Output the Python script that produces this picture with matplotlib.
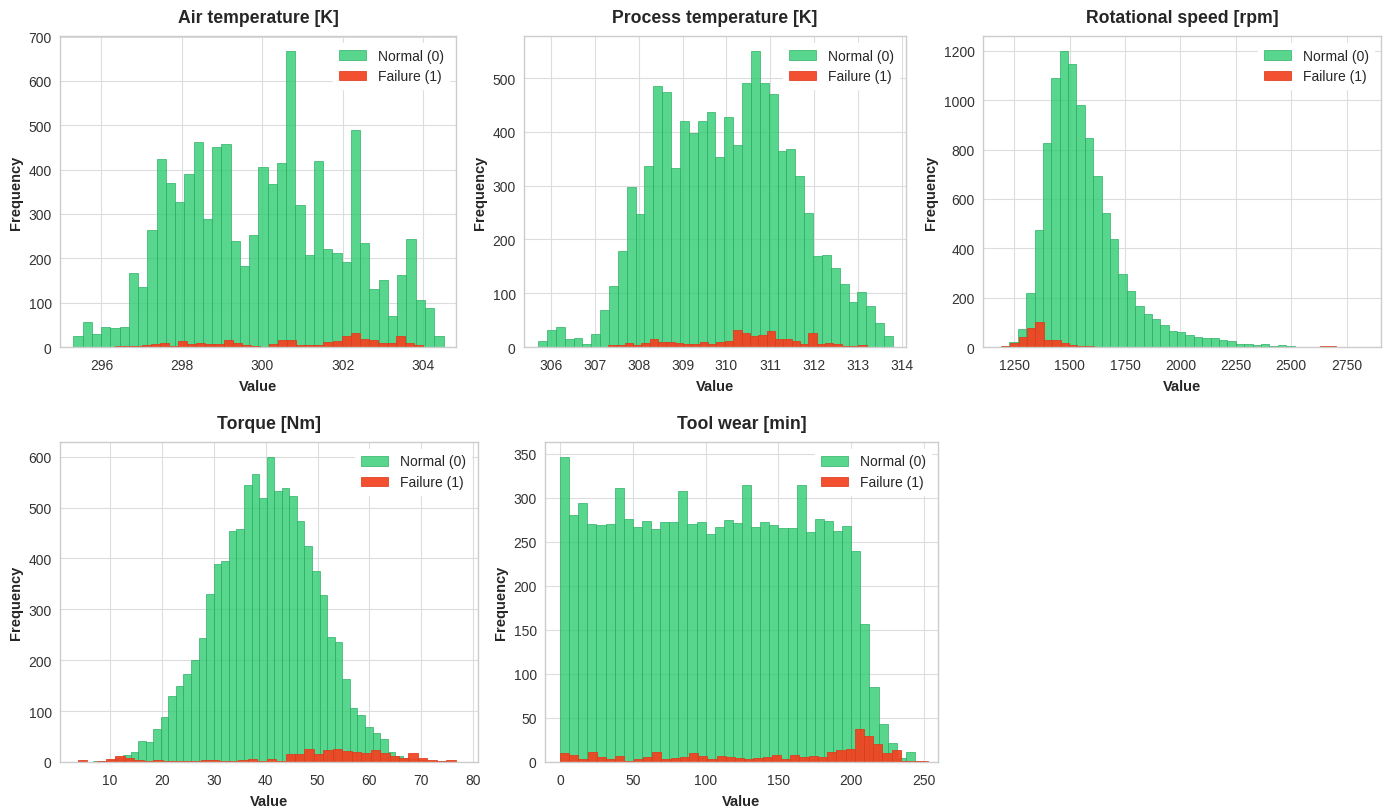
import numpy as np
import matplotlib
matplotlib.use("Agg")
import matplotlib.pyplot as plt
from matplotlib.ticker import MultipleLocator

# ---- data (bin range + counts per class) ----
titles = ["Air temperature [K]", "Process temperature [K]", "Rotational speed [rpm]",
          "Torque [Nm]", "Tool wear [min]"]

air_normal_range = (295.3, 304.5)
air_normal = [25, 56, 30, 45, 43, 46, 168, 136, 264, 423, 369, 326, 391, 463, 288, 451,
              457, 239, 183, 253, 406, 367, 415, 668, 320, 208, 419, 221, 211, 191, 490,
              234, 130, 150, 70, 162, 243, 105, 89, 25]
air_fail_range = (296.1, 304.0)
air_fail = [1, 2, 2, 3, 4, 6, 8, 2, 13, 7, 9, 7, 6, 16, 10, 4, 2, 1, 7, 16, 16, 4, 4, 5,
            11, 14, 25, 32, 19, 15, 10, 9, 25, 10, 4]

proc_normal_range = (305.7, 313.8)
proc_normal = [11, 31, 37, 15, 17, 6, 25, 69, 114, 179, 297, 248, 337, 485, 474, 333, 420,
               398, 420, 438, 353, 428, 375, 491, 551, 491, 471, 365, 369, 319, 249, 169,
               171, 147, 117, 83, 103, 77, 45, 20]
proc_fail_range = (307.3, 313.2)
proc_fail = [3, 4, 8, 3, 8, 14, 9, 9, 7, 5, 5, 9, 5, 10, 12, 32, 26, 20, 23, 29, 14, 15,
             11, 5, 26, 5, 7, 5, 1, 1, 3]

rpm_normal_range = (1190, 2704)
rpm_normal = [5, 20, 74, 218, 473, 827, 1089, 1200, 1145, 981, 847, 692, 542, 437, 296,
              228, 168, 134, 112, 90, 63, 60, 47, 40, 38, 36, 27, 23, 13, 12, 7, 11, 4, 9,
              3, 1, 2, 0, 1, 1]
rpm_fail_range = (1195, 2704)
rpm_fail = [4, 16, 40, 78, 100, 30, 30, 17, 7, 4, 3, 1, 2, 2, 0, 0, 0, 0, 0, 0, 0, 0, 0,
            0, 0, 0, 0, 0, 0, 0, 0, 0, 0, 0, 0, 2, 1, 0, 4, 4]

torque_normal_range = (3.8, 76.6)
torque_normal = [1, 0, 1, 2, 4, 7, 13, 20, 42, 40, 65, 88, 129, 150, 173, 200, 243, 330,
                 390, 395, 455, 457, 545, 566, 518, 599, 532, 538, 522, 473, 425, 376, 329,
                 246, 236, 163, 107, 93, 69, 57, 46, 20, 12, 8, 5, 3, 2, 1, 1, 1]
torque_fail_range = (3.8, 76.6)
torque_fail = [3, 0, 2, 5, 12, 7, 3, 2, 3, 1, 2, 1, 2, 3, 4, 2, 1, 3, 5, 2, 5, 2, 15, 15,
               26, 16, 23, 25, 21, 20, 18, 23, 18, 12, 8, 17, 7, 3, 1, 3]

wear_normal_range = (0, 250)
wear_normal = [346, 280, 294, 270, 269, 270, 311, 276, 267, 274, 264, 272, 273, 308, 270,
               273, 259, 267, 275, 271, 315, 267, 272, 269, 266, 266, 315, 261, 276, 274,
               262, 268, 240, 157, 85, 43, 22, 5, 11, 1]
wear_fail_range = (0, 253)
wear_fail = [10, 8, 3, 11, 6, 3, 7, 1, 3, 6, 11, 3, 5, 6, 10, 7, 3, 7, 6, 5, 3, 5, 6, 8, 3,
             8, 6, 7, 6, 11, 14, 15, 37, 29, 20, 10, 14, 1, 1, 1]

normal_data = [(air_normal_range, air_normal), (proc_normal_range, proc_normal),
               (rpm_normal_range, rpm_normal), (torque_normal_range, torque_normal),
               (wear_normal_range, wear_normal)]
fail_data = [(air_fail_range, air_fail), (proc_fail_range, proc_fail),
             (rpm_fail_range, rpm_fail), (torque_fail_range, torque_fail),
             (wear_fail_range, wear_fail)]

x_limits = [(294.97, 304.81), (305.38, 314.1), (1109, 2905), (0.4, 80.9), (-10.3, 259.6)]
x_steps = [2, 1, 250, 10, 50]

plt.style.use("seaborn-v0_8-whitegrid")
plt.rcParams["font.family"] = ["Liberation Sans", "DejaVu Sans"]
plt.rcParams["grid.color"] = "#dddddd"

fig, axes = plt.subplots(2, 3, figsize=(13.89, 8.12), dpi=100)
axes = axes.flatten()

# axes boxes in pixels: left, top, right, bottom
boxes = [(60, 37, 456, 348), (524, 37, 906, 348), (983, 37, 1381, 348),
         (60, 443, 478, 763), (545, 443, 938, 763)]
W, H = 1389, 812


def draw_hist(ax, rng, counts, **kw):
    edges = np.linspace(rng[0], rng[1], len(counts) + 1)
    centers = (edges[:-1] + edges[1:]) / 2
    ax.hist(centers, bins=edges, weights=counts, **kw)


for i, ax in enumerate(axes[:5]):
    l, t, r, b = boxes[i]
    ax.set_position([l / W, 1 - b / H, (r - l) / W, (b - t) / H])
    draw_hist(ax, *normal_data[i], color="#2ecc71", alpha=0.8,
              edgecolor="#27ae60", linewidth=0.6, label="Normal (0)")
    draw_hist(ax, *fail_data[i], color="#f2401f", alpha=0.92,
              edgecolor="#e03a1c", linewidth=0.6, label="Failure (1)")
    ax.set_xlim(*x_limits[i])
    ax.xaxis.set_major_locator(MultipleLocator(x_steps[i]))
    ax.set_title(titles[i], fontsize=12.7, fontweight="bold", pad=10)
    ax.set_xlabel("Value", fontsize=10.5, fontweight="bold", labelpad=5)
    ax.set_ylabel("Frequency", fontsize=10.5, fontweight="bold")
    ax.tick_params(labelsize=10, labelcolor="#333333")
    ax.tick_params(axis="x", pad=8)
    ax.tick_params(axis="y", pad=6)
    leg = ax.legend(loc="upper right", fontsize=10, frameon=True, framealpha=1.0)
    leg.get_frame().set_edgecolor("white")

axes[5].axis("off")

fig.savefig("out.png", dpi=100)
